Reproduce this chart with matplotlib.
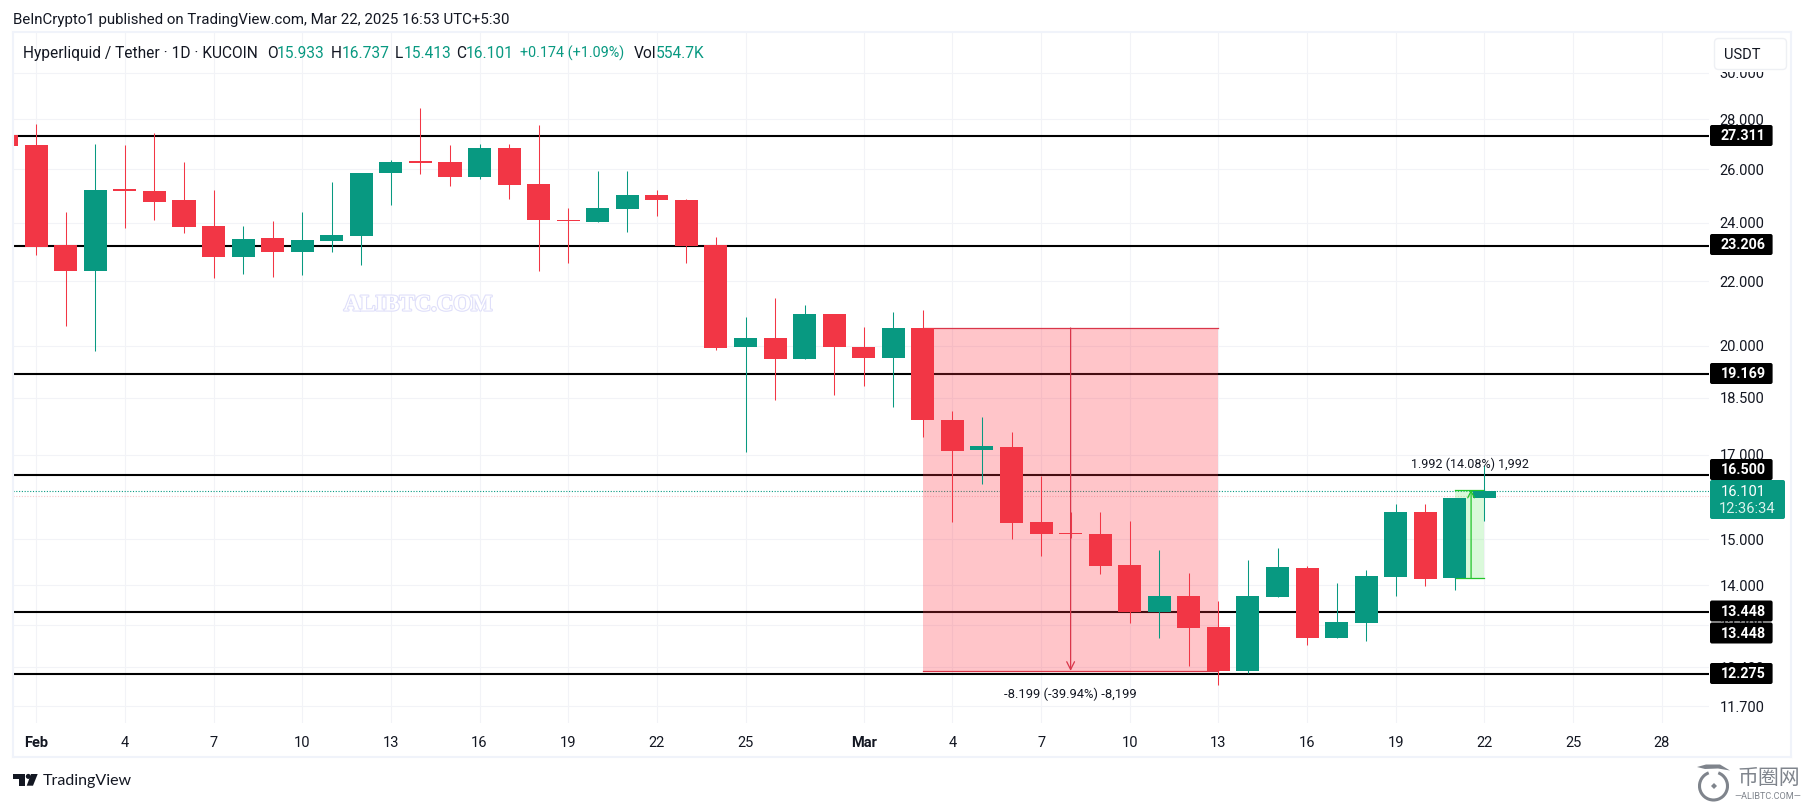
import matplotlib
matplotlib.use("Agg")
import matplotlib.pyplot as plt
import matplotlib.patheffects as pe
from matplotlib.patches import Rectangle, FancyBboxPatch, Polygon, Circle, Arc
from matplotlib.transforms import Affine2D
from matplotlib.ticker import NullLocator

plt.rcParams['font.family'] = ['Roboto', 'DejaVu Sans']

# ---- data -----------------------------------------------------------------
days = list(range(-1, 50))   # day index: 0 = 1 Feb, 28 = 1 Mar
opens = [27.35, 26.95, 23.23, 22.33, 25.25, 25.17, 24.83, 23.89, 22.83, 23.47, 22.97, 23.38, 23.55,
         25.83, 26.32, 26.28, 25.71, 26.84, 25.43, 24.11, 24.05, 24.51, 25.02, 24.83, 23.23, 19.95,
         20.23, 19.59, 20.96, 19.97, 19.62, 20.53, 17.91, 17.11, 17.19, 15.39, 15.14, 15.12, 14.44,
         13.45, 13.78, 13.16, 12.33, 13.77, 14.37, 12.95, 13.23, 14.17, 15.62, 14.15, 15.933]
highs = [27.35, 27.81, 24.40, 26.99, 26.95, 27.42, 26.26, 25.19, 23.89, 24.07, 24.40, 25.52, 25.85,
         26.36, 28.48, 26.93, 26.99, 26.99, 27.77, 24.53, 25.93, 25.93, 25.21, 24.87, 23.49, 20.87,
         21.48, 21.25, 20.96, 20.56, 21.03, 21.09, 18.14, 17.99, 17.60, 16.47, 15.62, 15.61, 15.40,
         14.76, 14.27, 13.67, 14.53, 14.80, 14.42, 14.06, 14.33, 15.81, 15.81, 15.95, 16.737]
lows = [26.92, 22.89, 20.59, 19.83, 23.82, 24.11, 23.63, 22.11, 22.25, 22.13, 22.22, 22.97, 22.55,
        24.65, 25.81, 25.37, 25.62, 24.87, 22.33, 22.62, 24.05, 23.69, 24.25, 22.62, 19.88, 17.08,
        18.45, 19.59, 18.57, 18.84, 18.26, 17.46, 15.38, 16.29, 15.00, 14.63, 15.02, 14.23, 13.24,
        12.95, 12.42, 12.08, 12.29, 13.77, 12.81, 12.95, 12.89, 13.78, 13.99, 13.91, 15.413]
closes = [26.92, 23.17, 22.33, 25.21, 25.15, 24.77, 23.87, 22.83, 23.43, 22.97, 23.40, 23.57, 25.85,
          26.28, 26.24, 25.71, 26.84, 25.41, 24.09, 24.07, 24.54, 25.02, 24.83, 23.20, 19.92, 20.23,
          19.59, 20.96, 19.95, 19.62, 20.53, 17.90, 17.09, 17.22, 15.37, 15.12, 15.12, 14.41, 13.45,
          13.78, 13.14, 12.32, 13.78, 14.39, 12.95, 13.25, 14.19, 15.62, 14.13, 15.95, 16.101]

level_values = [27.311, 23.206, 19.169, 16.5, 13.448, 12.275]
level_labels = ['27.311', '23.206', '19.169', '16.500', '13.448', '13.448', '12.275']
last_price = 16.101
prev_close = 15.98
y_ticks = [30, 28, 26, 24, 22, 20, 18.5, 17, 15, 14, 13.2, 12.4, 11.7]
x_ticks = [0, 3, 6, 9, 12, 15, 18, 21, 24, 28, 31, 34, 37, 40, 43, 46, 49, 52, 55]
x_labels = ['Feb', '4', '7', '10', '13', '16', '19', '22', '25', 'Mar',
            '4', '7', '10', '13', '16', '19', '22', '25', '28']
short_start, short_end, short_top, short_bottom = 30, 40, 20.528, 12.329
long_start, long_end, long_top, long_bottom = 48, 49, 16.14, 14.148

UP, DOWN, TXT, GRID = '#089981', '#F23645', '#131722', '#f2f3f7'
MEASURE_GREEN = '#22c52a'
W, H = 1804, 803
L, R, T_, B = 12.6, 1709, 34, 724

fig = plt.figure(figsize=(W / 100, H / 100), dpi=100, facecolor='white')
ax = fig.add_axes([L / W, 1 - B / H, (R - L) / W, (B - T_) / H])
PX = Affine2D().scale(1, -1).translate(0, H)

ax.set_yscale('log')
ax.set_xlim(-0.799, 56.6)
ax.set_ylim(11.41, 31.83)
ax.yaxis.set_minor_locator(NullLocator())
ax.yaxis.tick_right()
ax.set_yticks(y_ticks)
ax.set_yticklabels([f'{v:.3f}' for v in y_ticks], fontsize=10.5, color=TXT)
ax.set_xticks(x_ticks)
ax.set_xticklabels(x_labels, fontsize=10.5, color=TXT)
for lab, s in zip(ax.get_xticklabels(), x_labels):
    if s in ('Feb', 'Mar'):
        lab.set_fontweight('bold')
ax.tick_params(axis='both', length=0, which='major')
ax.tick_params(axis='y', pad=7.5)
ax.tick_params(axis='x', pad=8.3)
for tick in ax.yaxis.get_major_ticks():
    tick.label2.set_transform(tick.label2.get_transform() + Affine2D().translate(0, 1))
ax.grid(True, color=GRID, lw=0.8, zorder=0)
ax.set_axisbelow(True)
for s in ax.spines.values():
    s.set_visible(False)

# levels
for v in level_values:
    ax.axhline(v, color='black', lw=1.5, zorder=2)
ax.axhline(last_price, color=UP, lw=0.8, ls=(0, (1, 1.5)), zorder=2)
ax.axhline(prev_close, color='#f7c6cb', lw=0.8, ls=(0, (1, 1.5)), zorder=2)

# short measure
ax.fill_between([short_start, short_end], short_bottom, short_top, color='#FF3040', alpha=0.28, lw=0, zorder=3)
ax.plot([short_start, short_end], [short_top, short_top], color='#d9364a', lw=0.9, zorder=3.1)
ax.plot([short_start, short_end], [short_bottom, short_bottom], color='#d9364a', lw=0.9, zorder=3.1)

# long measure
ax.fill_between([long_start, long_end], long_bottom, long_top, color='#57e657', alpha=0.22, lw=0, zorder=3)
ax.plot([long_start, long_end], [long_top, long_top], color=MEASURE_GREEN, lw=0.9, zorder=3.1)
ax.plot([long_start, long_end], [long_bottom, long_bottom], color=MEASURE_GREEN, lw=0.9, zorder=3.1)

# candles
colors = [UP if c >= o else DOWN for o, c in zip(opens, closes)]
ax.vlines(days, lows, highs, colors=colors, lw=0.75, zorder=4)
ax.bar(days, [max(abs(c - o), 0.02) for o, c in zip(opens, closes)],
       bottom=[min(o, c) for o, c in zip(opens, closes)],
       width=0.78, color=colors, lw=0, zorder=4.2)

# measure arrows
ax.annotate('', xy=((short_start + short_end) / 2, short_bottom), xytext=((short_start + short_end) / 2, short_top),
            arrowprops=dict(arrowstyle='->', color='#d9364a', lw=0.9, shrinkA=0, shrinkB=0, mutation_scale=14), zorder=5)
ax.annotate('', xy=((long_start + long_end) / 2 + 0.05, long_top), xytext=((long_start + long_end) / 2 + 0.05, long_bottom),
            arrowprops=dict(arrowstyle='->', color=MEASURE_GREEN, lw=0.9, shrinkA=0, shrinkB=0, mutation_scale=12), zorder=5)
ax.annotate('-8.199 (-39.94%) -8,199', xy=((short_start + short_end) / 2, short_bottom),
            xytext=(0, -16), textcoords='offset points', ha='center', va='center', fontsize=9.4, color=TXT, zorder=6)
ax.annotate('1.992 (14.08%) 1,992', xy=((long_start + long_end) / 2, long_top),
            xytext=(0, 19), textcoords='offset points', ha='center', va='center', fontsize=9, color=TXT, zorder=6)

mark = fig.text(418, 306, 'ALIBTC.COM', transform=PX, ha='center', va='center', family='Liberation Serif',
                fontsize=16.4, fontweight='bold', color='white', zorder=7)
mark.set_path_effects([pe.withStroke(linewidth=1.6, foreground='#dfdffa')])

# frame
for (x0, y0, x1, y1) in [(L, 33, 1791, 33), (L, 758, 1791, 758), (L, 33, L, 758), (1791, 33, 1791, 758)]:
    fig.add_artist(plt.Line2D([x0, x1], [y0, y1], transform=PX, color='#f0f3fa', lw=1.5, zorder=1))

# price labels
centres = [136.5, 245.5, 374.5, 470.5, 612, 634, 674.5]
for s, c in zip(level_labels, centres):
    fig.add_artist(FancyBboxPatch((1711, c - 9.5), 60.6, 19, boxstyle='round,pad=1,rounding_size=2',
                                  transform=PX, fc='black', ec='none', zorder=5))
    fig.text(1743, c, s, transform=PX, ha='center', va='center', fontsize=10.3, fontweight='bold',
             color='white', zorder=6)
fig.add_artist(FancyBboxPatch((1711, 482), 73, 37, boxstyle='round,pad=1,rounding_size=2',
                              transform=PX, fc=UP, ec='none', zorder=5))
fig.text(1743, 492, '16.101', transform=PX, ha='center', va='center', fontsize=10.5, color='white', zorder=6)
fig.text(1747, 509, '12:36:34', transform=PX, ha='center', va='center', fontsize=10.5, color='#d9f2ec', zorder=6)
fig.add_artist(Rectangle((1712, 70), 75, 3.2, transform=PX, fc='white', ec='none', zorder=4.5))
fig.add_artist(FancyBboxPatch((1716, 41), 69, 28, boxstyle='round,pad=1.5,rounding_size=4',
                              transform=PX, fc='white', ec='#eef0f4', lw=1, zorder=5))
fig.text(1742.5, 55, 'USDT', transform=PX, ha='center', va='center', fontsize=10.5, color=TXT, zorder=6)

# header texts
fig.text(12.6, 20, 'BeInCrypto1 published on TradingView.com, Mar 22, 2025 16:53 UTC+5:30',
         transform=PX, va='center', fontsize=10.8, color=TXT)
legend = [(23, 'Hyperliquid / Tether · 1D · KUCOIN', TXT, 11.2), (267, 'O', TXT, 11.2), (277, '15.933', UP, 11.2),
          (331, 'H', TXT, 11.2), (341.6, '16.737', UP, 11.2), (395, 'L', TXT, 11.2), (403.6, '15.413', UP, 11.2),
          (456, 'C', TXT, 11.2), (465.6, '16.101', UP, 11.2), (519.5, '+0.174 (+1.09%)', UP, 10.4),
          (634, 'Vol', TXT, 11.2), (655.6, '554.7K', UP, 11.2)]
for x, s, col, size in legend:
    fig.text(x, 53.5, s, transform=PX, va='center', fontsize=size, color=col, zorder=7)

# TradingView logo
fig.add_artist(Polygon([(13.3, 775), (25, 775), (25, 786.7), (18.5, 786.7), (18.5, 779.5), (13.3, 779.5)],
                       transform=PX, fc=TXT, ec='none'))
fig.add_artist(Circle((28.3, 777.4), 2.5, transform=PX, fc=TXT, ec='none'))
fig.add_artist(Polygon([(31, 775), (37.7, 775), (33, 786.7), (26.7, 786.7)], transform=PX, fc=TXT, ec='none'))
fig.text(42.5, 781.5, 'TradingView', transform=PX, va='center', fontsize=11.5, family='Lato', color=TXT)

# bottom right watermark
WM = '#7f848c'
fig.add_artist(Arc((1713.5, 787), 28, 28, theta1=-70, theta2=250, transform=PX, color=WM, lw=2.2))
fig.add_artist(Polygon([(1697, 768), (1706, 765.5), (1720, 765.5), (1730, 771.5), (1718, 769.5), (1705, 770)],
                       transform=PX, fc=WM, ec='none'))
fig.add_artist(Polygon([(1714, 784), (1717, 787), (1714, 790), (1711, 787)], transform=PX, fc=WM, ec='none'))
fig.text(1769, 778.5, '币圈网', transform=PX, ha='center', va='center', fontsize=15,
         family=['Noto Sans CJK SC', 'DejaVu Sans'], color=WM)
fig.text(1768, 797, '—ALIBTC.COM—', transform=PX, ha='center', va='center', fontsize=6.6, color=WM)

fig.savefig('out.png', dpi=100, facecolor='white')
